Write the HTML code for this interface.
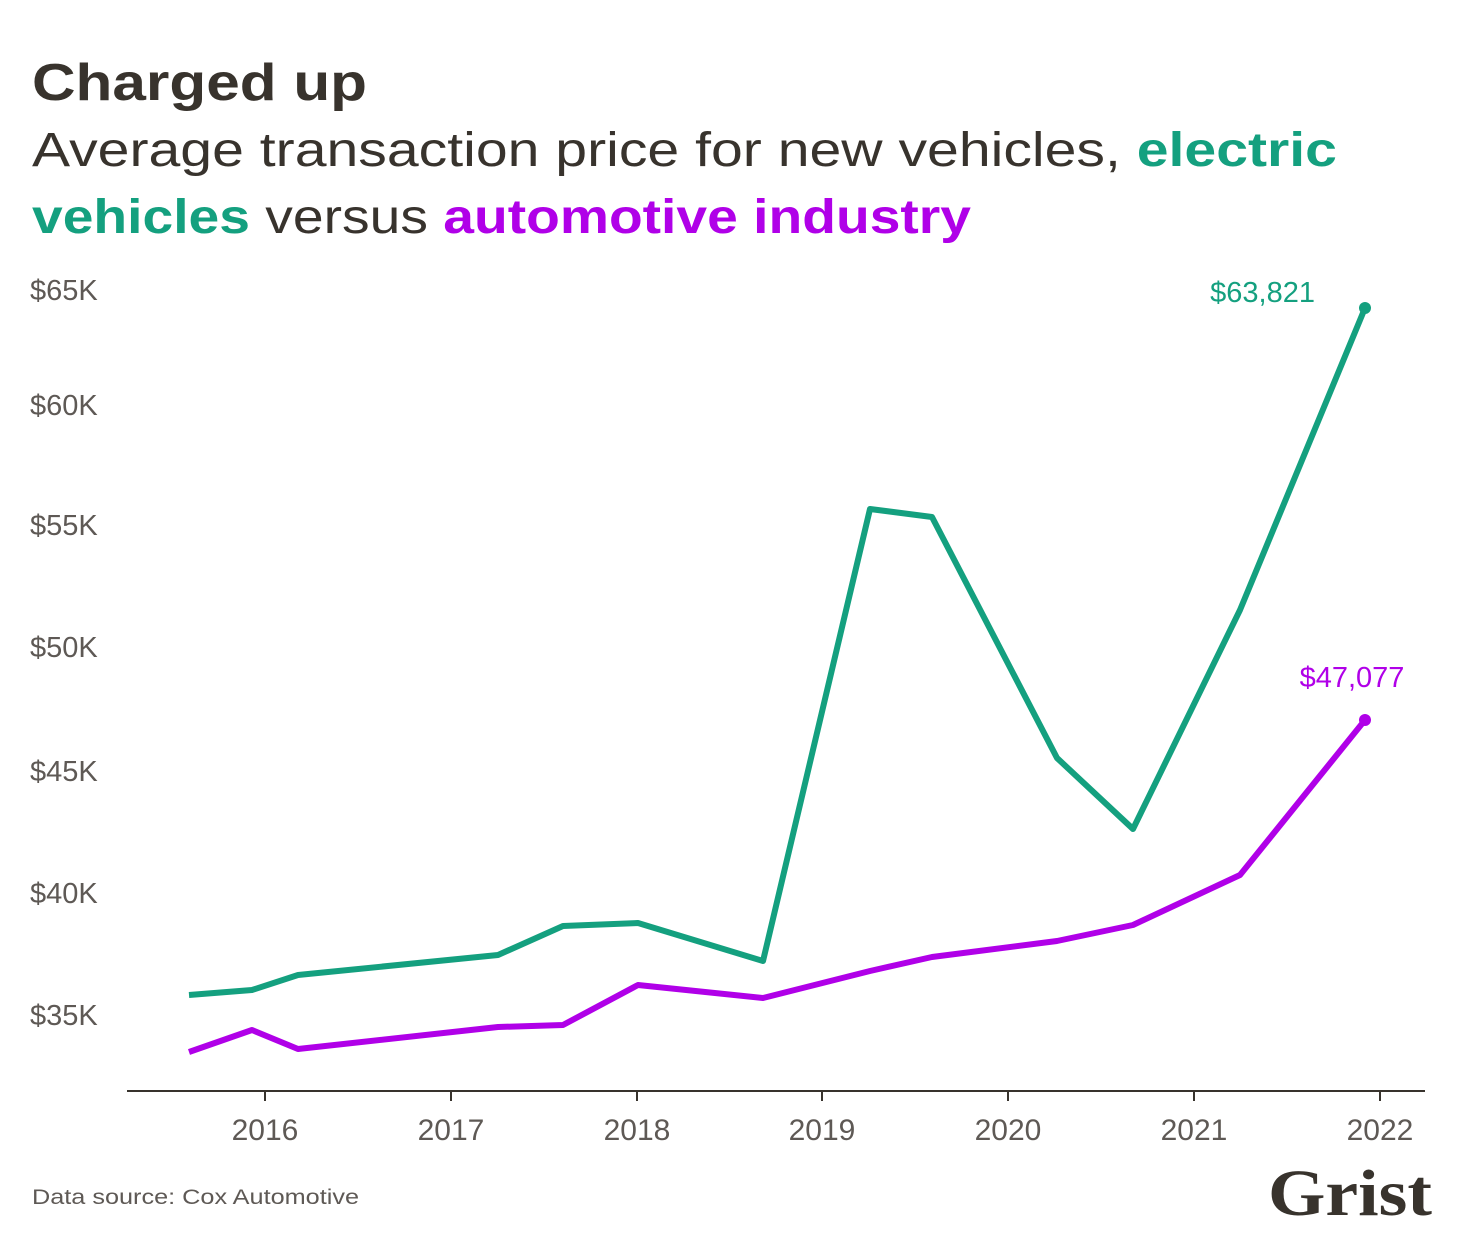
<!DOCTYPE html>
<html><head><style>
body{margin:0;background:#fff;width:1459px;height:1250px;overflow:hidden;font-family:"Liberation Sans",sans-serif;}
</style></head><body>
<svg width="1459" height="1250" xmlns="http://www.w3.org/2000/svg" font-family="Liberation Sans, sans-serif">
<text x="32" y="100" font-size="52" font-weight="bold" fill="#38332d" textLength="335" lengthAdjust="spacingAndGlyphs">Charged up</text>
<text x="32" y="166" font-size="48" fill="#38332d" textLength="1305" lengthAdjust="spacingAndGlyphs">Average transaction price for new vehicles, <tspan fill="#14a07f" font-weight="bold">electric</tspan></text>
<text x="32" y="233" font-size="48" fill="#38332d" textLength="939" lengthAdjust="spacingAndGlyphs"><tspan fill="#14a07f" font-weight="bold">vehicles</tspan> versus <tspan fill="#b000e8" font-weight="bold">automotive industry</tspan></text>
<g font-size="29" fill="#5e5955">
<text x="30" y="300">$65K</text>
<text x="30" y="415">$60K</text>
<text x="30" y="535">$55K</text>
<text x="30" y="657">$50K</text>
<text x="30" y="781">$45K</text>
<text x="30" y="903">$40K</text>
<text x="30" y="1025">$35K</text>
</g>
<line x1="127" y1="1091" x2="1425" y2="1091" stroke="#38332d" stroke-width="2"/>
<g stroke="#38332d" stroke-width="2">
<line x1="265" y1="1091" x2="265" y2="1101"/><line x1="451" y1="1091" x2="451" y2="1101"/><line x1="637" y1="1091" x2="637" y2="1101"/><line x1="822" y1="1091" x2="822" y2="1101"/><line x1="1008" y1="1091" x2="1008" y2="1101"/><line x1="1194" y1="1091" x2="1194" y2="1101"/><line x1="1380" y1="1091" x2="1380" y2="1101"/>
</g>
<g font-size="30" fill="#5e5955" text-anchor="middle">
<text x="265" y="1140">2016</text><text x="451" y="1140">2017</text><text x="637" y="1140">2018</text><text x="822" y="1140">2019</text><text x="1008" y="1140">2020</text><text x="1194" y="1140">2021</text><text x="1380" y="1140">2022</text>
</g>
<polyline fill="none" stroke="#14a07f" stroke-width="6" stroke-linejoin="round" points="189,995 252,990 298,975 498,955 563,926 638,923 763,961 870,509 932,517 1057,758 1133,829 1240,610 1365,308"/>
<polyline fill="none" stroke="#b000e8" stroke-width="6" stroke-linejoin="round" points="189,1052 252,1030 298,1049 498,1027 563,1025 638,985 763,998 870,971 932,957 1057,941 1133,925 1240,875 1365,720"/>
<circle cx="1365" cy="308" r="6" fill="#14a07f"/>
<circle cx="1365" cy="720" r="6" fill="#b000e8"/>
<text x="1315" y="302" font-size="29" fill="#14a07f" text-anchor="end">$63,821</text>
<text x="1352" y="687" font-size="29" fill="#b000e8" text-anchor="middle">$47,077</text>
<text x="32" y="1204" font-size="21" fill="#5e5955" textLength="327" lengthAdjust="spacingAndGlyphs">Data source: Cox Automotive</text>
<text x="1268" y="1215" font-size="66" font-weight="bold" font-family="Liberation Serif, serif" fill="#38332d" textLength="164" lengthAdjust="spacingAndGlyphs">Grist</text>
</svg>
</body></html>
